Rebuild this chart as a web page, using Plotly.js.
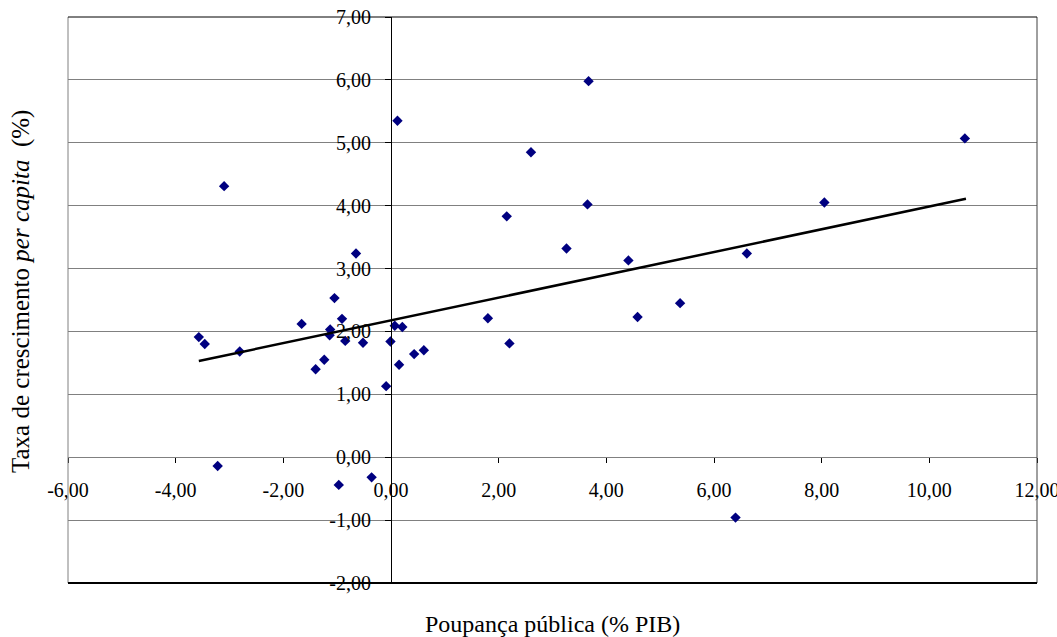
<!DOCTYPE html>
<html>
<head>
<meta charset="utf-8">
<script src="https://cdn.plot.ly/plotly-3.0.1.min.js"></script>
<style>html,body{margin:0;padding:0;background:#fff;}#chart{width:1057px;height:637px;}</style>
</head>
<body>
<div id="chart"></div>
<script>
// Poupança pública (% PIB)
const poupanca = [-3.57, -3.46, -2.81, -1.66, -1.05, -0.91, -1.13, -1.14, -0.85, -0.52,
  -1.24, -1.40, 0.07, 0.21, -0.01, 0.15, 0.43, 0.61, -0.09, -3.22,
  -0.97, -0.36, 3.67, 2.60, 2.15, 3.65, 3.26, 4.41, 6.61, 1.80,
  2.20, 4.58, 5.37, 10.66, 8.05, 6.40, -3.10, 0.12, -0.65];
// Taxa de crescimento per capita (%)
const crescimento = [1.91, 1.80, 1.68, 2.12, 2.53, 2.20, 2.03, 1.94, 1.85, 1.82,
  1.55, 1.40, 2.09, 2.07, 1.84, 1.47, 1.64, 1.70, 1.13, -0.14,
  -0.44, -0.32, 5.98, 4.85, 3.83, 4.02, 3.32, 3.13, 3.24, 2.21,
  1.81, 2.23, 2.45, 5.07, 4.05, -0.96, 4.31, 5.35, 3.24];
// Linear trend line endpoints
const trendX = [-3.57, 10.68];
const trendY = [1.53, 4.11];

const xTickVals = [-6, -4, -2, 0, 2, 4, 6, 8, 10, 12];
const xTickText = ['-6,00', '-4,00', '-2,00', '0,00', '2,00', '4,00', '6,00', '8,00', '10,00', '12,00'];
const yTickVals = [-2, -1, 0, 1, 2, 3, 4, 5, 6, 7];
const yTickText = ['-2,00', '-1,00', '0,00', '1,00', '2,00', '3,00', '4,00', '5,00', '6,00', '7,00'];

const xTitle = 'Poupança pública (% PIB)';
const yTitle = 'Taxa de crescimento <i>per capita</i>  (%)';

const fam = '"Liberation Serif", "Times New Roman", serif';
const font = {family: fam, size: 20, color: '#000'};
const titleFont = {family: fam, size: 24, color: '#000'};
const yTitleFont = {family: fam, size: 25, color: '#000'};

const traces = [
  {
    x: poupanca, y: crescimento, type: 'scatter', mode: 'markers',
    marker: {symbol: 'diamond', size: 8, color: '#000080', line: {width: 0}},
    hoverinfo: 'x+y', showlegend: false, cliponaxis: false
  },
  {
    x: trendX, y: trendY, type: 'scatter', mode: 'lines',
    line: {color: '#000', width: 2.5}, showlegend: false
  }
];

const layout = {
  width: 1057, height: 637,
  margin: {l: 68, r: 20, t: 17, b: 54},
  paper_bgcolor: '#fff', plot_bgcolor: '#fff',
  font: font,
  showlegend: false,
  xaxis: {
    range: [-6, 12], autorange: false,
    anchor: 'free', position: 2 / 9,
    tickvals: xTickVals, ticktext: xTickText,
    ticks: 'outside', ticklen: 5, tickcolor: '#000', tickwidth: 1,
    ticklabelstandoff: 10, ticklabeloverflow: 'allow',
    showgrid: false, zeroline: false,
    showline: true, linecolor: '#808080', linewidth: 1,
    tickfont: font
  },
  yaxis: {
    range: [-2, 7], autorange: false,
    anchor: 'free', position: 6 / 18,
    tickvals: yTickVals, ticktext: yTickText,
    ticks: 'outside', ticklen: 6, tickcolor: '#000', tickwidth: 1,
    ticklabelstandoff: 10, ticklabeloverflow: 'allow',
    showgrid: true, gridcolor: '#808080', gridwidth: 1,
    zeroline: false,
    showline: true, linecolor: '#000', linewidth: 1,
    tickfont: font
  },
  shapes: [
    {type: 'line', xref: 'paper', yref: 'paper', x0: 0, x1: 0, y0: 0, y1: 1, line: {color: '#808080', width: 1}},
    {type: 'line', xref: 'paper', yref: 'paper', x0: 1, x1: 1, y0: 0, y1: 1, line: {color: '#404040', width: 1}},
    {type: 'line', xref: 'paper', yref: 'paper', x0: 0, x1: 1, y0: 1, y1: 1, line: {color: '#000', width: 1}},
    {type: 'line', xref: 'paper', yref: 'paper', x0: 0, x1: 1, y0: 0, y1: 0, line: {color: '#000', width: 2}}
  ],
  annotations: [
    {text: xTitle, xref: 'paper', yref: 'paper', x: 0.5, y: -0.072, xanchor: 'center', yanchor: 'middle', showarrow: false, font: titleFont},
    {text: yTitle, xref: 'paper', yref: 'paper', x: -0.049, y: 0.515, xanchor: 'center', yanchor: 'middle', textangle: -90, showarrow: false, font: yTitleFont}
  ]
};

Plotly.newPlot('chart', traces, layout, {displayModeBar: false, staticPlot: true});
</script>
</body>
</html>
